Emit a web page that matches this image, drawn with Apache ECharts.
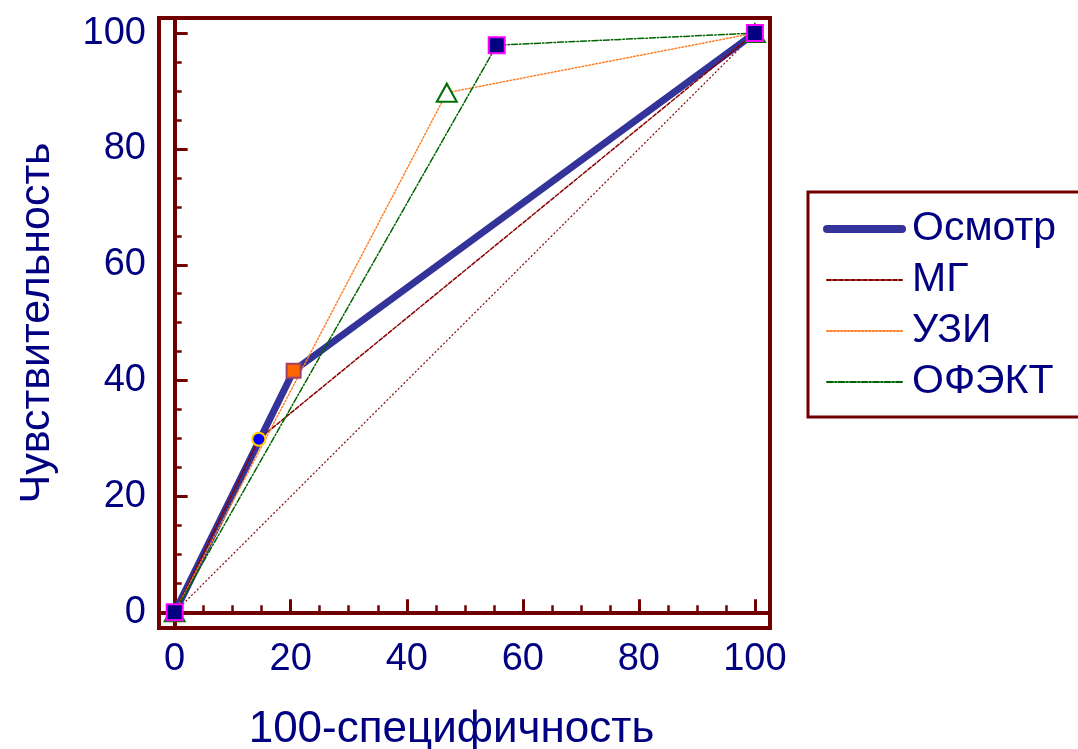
<!DOCTYPE html>
<html>
<head>
<meta charset="utf-8">
<script src="https://cdn.jsdelivr.net/npm/echarts@6/dist/echarts.min.js"></script>
<style>
  html, body { margin: 0; padding: 0; background: #fff; }
  #chart { width: 1078px; height: 749px; }
</style>
</head>
<body>
<div id="chart"></div>
<script>
// данные ROC-кривых
const refX = [0, 100];
const refY = [0, 100];
const osmotrX = [0, 20.5, 100];
const osmotrY = [0, 41.7, 100];
const mgX = [0, 14.5, 100];
const mgY = [0, 29.9, 100];
const uziX = [0, 46.9, 100];
const uziY = [0, 89.7, 100];
const ofektX = [0, 55.5, 100];
const ofektY = [0, 97.9, 100];

const majorTicks = [0, 20, 40, 60, 80, 100];
const minorTicks = [5, 10, 15, 25, 30, 35, 45, 50, 55, 65, 70, 75, 85, 90, 95];

const frameColor = '#700000';
const textColor = '#000080';
const font = '"Liberation Sans", Arial, sans-serif';
const axMin = -2.7, axMax = 102.6;

const pairs = (xs, ys) => xs.map((x, i) => [x, ys[i]]);

// основная ось (большие деления + подписи)
const mainAxis = (isX) => ({
    type: 'value',
    min: axMin,
    max: axMax,
    position: isX ? 'bottom' : 'left',
    name: isX ? '100-специфичность' : 'Чувствительность',
    nameLocation: 'middle',
    nameGap: isX ? 80 : 100,
    nameTextStyle: { color: textColor, fontSize: isX ? 44 : 43, fontFamily: font,
        padding: isX ? [0, 26, 0, 0] : 0 },
    axisLine: { show: true, lineStyle: { color: frameColor, width: 4 } },
    axisTick: { show: true, inside: true, length: 13, customValues: majorTicks,
        lineStyle: { color: frameColor, width: 3 } },
    axisLabel: { customValues: majorTicks, color: textColor, fontSize: 38,
        fontFamily: font, margin: 13 },
    splitLine: { show: false },
})

// вспомогательная ось (мелкие деления)
const minorAxis = (isX) => ({
    type: 'value',
    min: axMin,
    max: axMax,
    position: isX ? 'bottom' : 'left',
    axisLine: { show: false },
    axisTick: { show: true, inside: true, length: 7, customValues: minorTicks,
        lineStyle: { color: frameColor, width: 2.5 } },
    axisLabel: { show: false },
    splitLine: { show: false },
})

const lineSeries = (name, xs, ys, color, width, type) => ({
    name: name,
    type: 'line',
    data: pairs(xs, ys),
    symbol: 'none',
    lineStyle: { color: color, width: width, type: type, cap: 'round', join: 'round' },
    itemStyle: { color: color },
    animation: false,
})

const markSeries = (name, xs, ys, symbol, size, fill, border) => ({
    name: name,
    type: 'scatter',
    data: pairs(xs, ys),
    symbol: symbol,
    symbolSize: size,
    itemStyle: { color: fill, borderColor: border, borderWidth: 2, opacity: 1 },
    z: 5,
    animation: false,
})

const option = {
    backgroundColor: '#fff',
    grid: {
        left: 159, right: 308, top: 18, bottom: 121,
        show: true, borderColor: frameColor, borderWidth: 4,
        outerBoundsMode: 'none',
    },
    xAxis: [mainAxis(true), minorAxis(true)],
    yAxis: [mainAxis(false), minorAxis(false)],
    legend: {
        data: [
            { name: 'Осмотр', lineStyle: { width: 8 } },
            { name: 'МГ' },
            { name: 'УЗИ' },
            { name: 'ОФЭКТ' },
        ],
        orient: 'vertical',
        left: 808,
        top: 192,
        padding: [16, 80, 14, 15],
        borderColor: frameColor,
        borderWidth: 3,
        itemWidth: 75,
        itemHeight: 14,
        itemGap: 9,
        itemStyle: { opacity: 0 },
        textStyle: { color: textColor, fontSize: 41, fontFamily: font, lineHeight: 42,
            padding: [0, 0, 0, 5] },
    },
    series: [
        lineSeries('ref', refX, refY, '#800000', 1.2, [1, 3]),
        lineSeries('Осмотр', osmotrX, osmotrY, '#333399', 7, 'solid'),
        lineSeries('МГ', mgX, mgY, '#8b0000', 1.5, [4, 2]),
        lineSeries('УЗИ', uziX, uziY, '#ff7f27', 1.5, [1.5, 2]),
        lineSeries('ОФЭКТ', ofektX, ofektY, '#006400', 1.5, [6, 2, 1.5, 2]),
        markSeries('m-osmotr', osmotrX, osmotrY, 'rect', 14, '#ff6600', '#a0406a'),
        markSeries('m-mg', mgX, mgY, 'circle', 13, '#0000ff', '#ffcc00'),
        markSeries('m-uzi', uziX, uziY, 'triangle', [20, 18], '#ffffff', '#007000'),
        markSeries('m-ofekt', ofektX, ofektY, 'rect', 16, '#000080', '#ff00ff'),
    ],
}

const chart = echarts.init(document.getElementById('chart'));
chart.setOption(option);
</script>
</body>
</html>
